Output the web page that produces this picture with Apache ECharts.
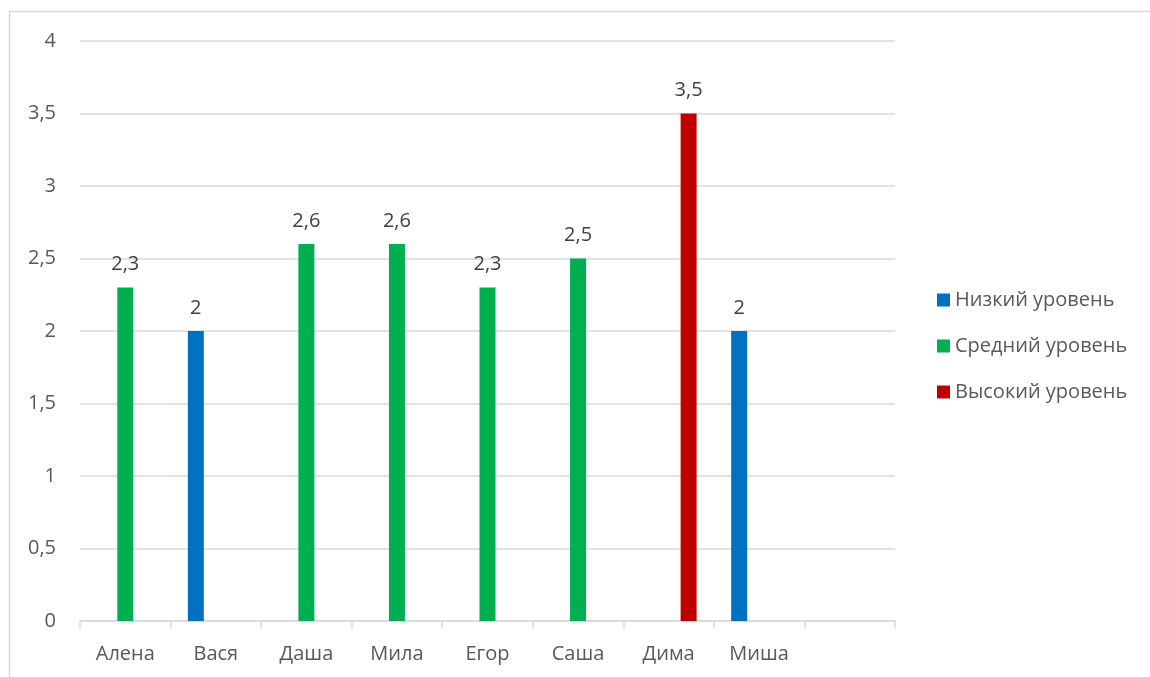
<!DOCTYPE html>
<html>
<head>
<meta charset="utf-8">
<script src="https://cdn.jsdelivr.net/npm/echarts@6/dist/echarts.min.js"></script>
<style>
html,body{margin:0;padding:0;background:#fff;}
#chart{width:1150px;height:677px;}
</style>
</head>
<body>
<div id="chart"></div>
<script>
const categories = ['Алена', 'Вася', 'Даша', 'Мила', 'Егор', 'Саша', 'Дима', 'Миша', ''];
const seriesNames = ['Низкий уровень', 'Средний уровень', 'Высокий уровень'];
const lowValues = [null, 2, null, null, null, null, null, 2, null];
const midValues = [2.3, null, 2.6, 2.6, 2.3, 2.5, null, null, null];
const highValues = [null, null, null, null, null, null, 3.5, null, null];
const seriesColors = ['#0070C0', '#00B050', '#C00000'];

const FONT = '"Open Sans", "Noto Sans", sans-serif';
const FS = 20;
const fmt = v => String(v).replace('.', ',');

const chart = echarts.init(document.getElementById('chart'));
const mk = (name, data, color) => ({
  name, type: 'bar', data,
  barWidth: 16, barGap: '25%',
  itemStyle: { color },
  label: {
    show: true, position: 'top', distance: 13,
    color: '#404040', fontFamily: FONT, fontSize: FS,
    formatter: p => fmt(p.value)
  }
});
chart.setOption({
  animation: false,
  backgroundColor: '#fff',
  textStyle: { fontFamily: FONT },
  grid: { left: 80, right: 255, top: 41, bottom: 56, containLabel: false },
  legend: {
    orient: 'vertical', left: 932, top: 285,
    itemWidth: 13, itemHeight: 13, itemGap: 26,
    icon: 'rect',
    textStyle: { color: '#595959', fontSize: FS, fontFamily: FONT, padding: [0, 0, 0, 0] },
    data: seriesNames
  },
  xAxis: {
    type: 'category', data: categories, boundaryGap: true,
    axisLine: { lineStyle: { color: '#D9D9D9', width: 1.5 } },
    axisTick: { show: true, length: 7, lineStyle: { color: '#D9D9D9', width: 1.5 } },
    axisLabel: { color: '#595959', fontSize: FS, fontFamily: FONT, margin: 23, interval: 0 },
    splitLine: { show: false }
  },
  yAxis: {
    type: 'value', min: 0, max: 4, interval: 0.5,
    axisLine: { show: false }, axisTick: { show: false },
    axisLabel: { color: '#595959', fontSize: FS, fontFamily: FONT, margin: 24, formatter: v => fmt(v) },
    splitLine: { lineStyle: { color: '#D9D9D9', width: 1.5 } }
  },
  series: [
    mk(seriesNames[0], lowValues, seriesColors[0]),
    mk(seriesNames[1], midValues, seriesColors[1]),
    mk(seriesNames[2], highValues, seriesColors[2])
  ],
  graphic: [
    { type: 'line', shape: { x1: 9, y1: 11.5, x2: 1150, y2: 11.5 }, style: { stroke: '#D9D9D9', lineWidth: 1.5 } },
    { type: 'line', shape: { x1: 9.5, y1: 11, x2: 9.5, y2: 677 }, style: { stroke: '#D9D9D9', lineWidth: 1.5 } }
  ]
});
</script>
</body>
</html>
